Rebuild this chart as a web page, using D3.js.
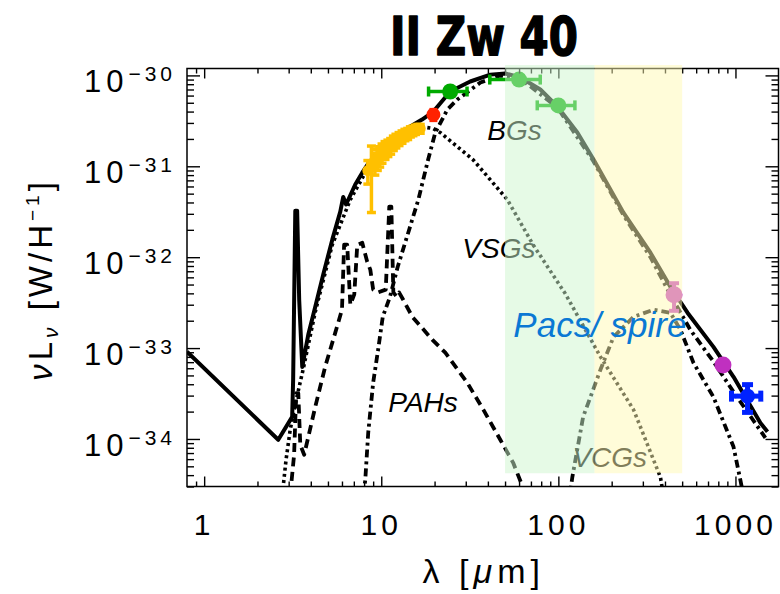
<!DOCTYPE html>
<html>
<head>
<meta charset="utf-8">
<script src="https://cdn.jsdelivr.net/npm/d3@7"></script>
<style>
  body { margin: 0; background: #fff; }
  svg { display: block; }
</style>
</head>
<body>
<svg id="chart" width="780" height="594"></svg>
<script>
// ---------------------------------------------------------------
// II Zw 40 : spectral energy distribution, nu L_nu per H atom
// ---------------------------------------------------------------

// Model components, [wavelength (micron), nuLnu (W/H)]
const totalSED = [
  [0.80, 9.1e-34], [2.62, 9.8e-35], [3.14, 1.75e-34], [3.18, 4.5e-34],
  [3.27, 3.25e-32], [3.35, 3.25e-32], [3.44, 3.4e-33], [3.58, 6.2e-34],
  [3.87, 1.4e-33], [4.24, 2.85e-33], [4.70, 6.4e-33], [5.29, 1.56e-32],
  [5.87, 3.17e-32], [6.10, 4.6e-32], [6.33, 3.8e-32], [7.13, 6.3e-32],
  [7.81, 8.5e-32], [8.44, 1.07e-31], [9.87, 1.53e-31], [12.0, 2.12e-31],
  [14.6, 2.74e-31], [17.0, 3.27e-31], [19.7, 4.0e-31], [24.5, 6.65e-31],
  [31.8, 8.57e-31], [41.3, 1.02e-30], [50.2, 1.05e-30], [61, 9.5e-31],
  [79.1, 7.0e-31], [98.7, 4.55e-31], [128, 2.35e-31], [158, 1.19e-31],
  [233, 3.09e-32], [331, 1.12e-32], [429, 4.73e-33], [536, 2.45e-33],
  [751, 1.03e-33], [975, 4.83e-34], [1384, 1.5e-34], [1517, 1.2e-34]
];

const pahSED = [
  [3.06, 2.4e-35], [3.22, 6.7e-35], [3.31, 3.2e-34], [3.40, 3.2e-34],
  [3.49, 8.6e-35], [3.67, 6.7e-35], [4.24, 2.26e-34], [4.83, 6.3e-34],
  [5.50, 1.48e-33], [6.00, 2.64e-33], [6.17, 1.37e-32], [6.42, 1.37e-32],
  [6.69, 3.0e-33], [7.04, 3.9e-33], [7.32, 1.37e-32], [7.81, 1.44e-32],
  [8.33, 8.9e-33], [8.67, 7.3e-33], [9.00, 4.4e-33], [9.60, 4.1e-33],
  [10.6, 4.4e-33], [11.1, 3.6e-32], [11.4, 3.6e-32], [11.7, 4.1e-33],
  [12.2, 3.7e-33], [12.6, 4.1e-33], [13.3, 3.4e-33], [15.0, 2.2e-33],
  [19.4, 1.24e-33], [23.0, 8.9e-34], [30.5, 4.2e-34], [37.7, 2.1e-34],
  [47, 9.8e-35], [55.5, 5.5e-35], [62.8, 3.0e-35], [65.0, 2.4e-35]
];

const vsgSED = [
  [2.76, 2.4e-35], [2.90, 5.9e-35], [3.06, 1.26e-34], [3.31, 2.7e-34],
  [3.62, 5.8e-34], [4.24, 2.5e-33], [5.29, 1.37e-32], [6.69, 4.3e-32],
  [8.44, 9.7e-32], [12.0, 1.97e-31], [16.6, 2.74e-31], [19.7, 2.6e-31],
  [21.6, 2.34e-31], [33, 1.18e-31], [51.5, 4.3e-32], [72, 1.37e-32],
  [109.5, 3.96e-33], [173, 8.0e-34], [266, 2.09e-34], [377, 3.8e-35],
  [392, 2.4e-35]
];

const bgSED = [
  [7.9, 2.4e-35], [8.12, 3.5e-35], [8.44, 1.17e-34], [9.0, 4.16e-34],
  [9.6, 9.6e-34], [10.2, 2.21e-33], [11.2, 3.67e-33], [12.4, 7.9e-33],
  [14.2, 1.86e-32], [16.2, 4.3e-32], [18.4, 1.19e-31], [20.2, 2.35e-31],
  [23.6, 4.2e-31], [26.9, 5.43e-31], [36.3, 8.35e-31], [47, 9.97e-31],
  [61, 9.2e-31], [98.7, 4.45e-31], [158, 1.13e-31], [233, 2.9e-32],
  [331, 1.0e-32], [429, 3.85e-33], [557, 1.58e-33], [751, 7.1e-34],
  [975, 3.3e-34], [1476, 1.03e-34]
];

const vcgSED = [
  [115, 2.1e-35], [120, 3.83e-35], [138, 1.75e-34], [173, 5.8e-34],
  [205, 1.33e-33], [266, 2.21e-33], [344, 2.64e-33], [429, 2.45e-33],
  [489, 1.59e-33], [579, 6.9e-34], [751, 2.9e-34], [975, 8.2e-35],
  [1067, 3.5e-35], [1110, 2.4e-35]
];

// IRS spectrum, [wavelength, nuLnu, error]
const irsSpectrum = [
  [8.4, 8.97e-32, 2.6e-32], [8.8, 9.9e-32, 6.8e-32], [9.2, 1.10e-31, 3.0e-32],
  [9.5, 1.22e-31, 3.2e-32], [9.8, 1.31e-31, 3.3e-32], [10.1, 1.42e-31, 3.4e-32],
  [10.5, 1.53e-31, 3.4e-32], [10.9, 1.61e-31, 3.3e-32], [11.3, 1.69e-31, 3.3e-32],
  [11.7, 1.82e-31, 3.3e-32], [12.1, 1.92e-31, 3.3e-32], [12.6, 2.02e-31, 3.3e-32],
  [13.1, 2.12e-31, 3.3e-32], [13.6, 2.23e-31, 3.2e-32], [14.1, 2.29e-31, 3.2e-32],
  [14.6, 2.41e-31, 3.1e-32], [15.1, 2.47e-31, 3.0e-32], [15.6, 2.54e-31, 3.0e-32],
  [16.1, 2.60e-31, 2.9e-32], [16.6, 2.60e-31, 2.9e-32]
];

// Broad-band photometry
const photInstrument = ["wise", "mips", "iras", "iras", "scuba", "scuba", "mambo"];
const photLambda     = [19.7,   24.5,   60,     100,    450,     850,     1170];
const photValue      = [3.7e-31, 6.65e-31, 9.0e-31, 4.68e-31, 3.87e-33, 6.5e-34, 2.96e-34];
const photLambdaErr  = [0,      6,      19,     24,     0,       0,       220];
const photValueErr   = [5e-32,  0,      0,      0,      1.3e-33, 6.5e-35, 1.0e-34];

// Herschel coverage
const bandNames  = ["PACS", "SPIRE"];
const bandRanges = [[50, 160], [160, 500]];
const bandFluxRange = [4.2e-35, 1.3e-30];

// Axis ticks
const xTickValues = [1, 10, 100, 1000];
const xTickLabels = ["1", "10", "100", "1000"];
const yTickExponents = [-30, -31, -32, -33, -34];

const componentLabels = ["BGs", "VSGs", "PAHs", "VCGs"];
const titleText = "II Zw 40";

// ---------------------------------------------------------------
const svg = d3.select("#chart");
const plot = { left: 187, right: 778.5, top: 68.5, bottom: 486.5 };

const x = d3.scaleLog().domain([0.8, 1750]).range([plot.left, plot.right]);
const y = d3.scaleLog().domain([Math.pow(10, -34.523), Math.pow(10, -29.924)])
  .range([plot.bottom, plot.top]);

svg.append("defs").append("clipPath").attr("id", "plot-clip")
  .append("rect")
  .attr("x", plot.left).attr("y", plot.top)
  .attr("width", plot.right - plot.left).attr("height", plot.bottom - plot.top);

const curves = svg.append("g").attr("clip-path", "url(#plot-clip)");
const line = d3.line().x(d => x(d[0])).y(d => y(d[1]));

// Component labels, sitting under the coverage tint
const labelFont = "'Liberation Sans', Arial, sans-serif";
const labelAnchors = {
  BGs:  [39.7, 1.97e-31],
  VSGs: [28.7, 9.9e-33],
  PAHs: [10.96, 2.0e-34],
  VCGs: [120, 4.93e-35]
};
componentLabels.forEach(name => {
  svg.append("text")
    .attr("x", x(labelAnchors[name][0]))
    .attr("y", y(labelAnchors[name][1]))
    .attr("font-family", labelFont)
    .attr("font-style", "italic")
    .attr("font-size", 28)
    .attr("fill", "#000")
    .text(name);
});

// Model curves
const curveStyles = [
  { data: pahSED,   dash: "9,5.5",      width: 3.8 },
  { data: vsgSED,   dash: "3,3.2",      width: 3.6 },
  { data: bgSED,    dash: "8,4,3,4",    width: 3.8 },
  { data: vcgSED,   dash: "8,4,3,4",    width: 3.8 },
  { data: totalSED, dash: null,         width: 4 }
];
curveStyles.forEach(c => {
  curves.append("path")
    .datum(c.data)
    .attr("d", line)
    .attr("fill", "none")
    .attr("stroke", "#000")
    .attr("stroke-width", c.width)
    .attr("stroke-linejoin", "round")
    .attr("stroke-dasharray", c.dash);
});

// Data points
const pointStyle = {
  irs:   { color: "#ffc000", r: 5.5, cap: 4.5, w: 3.5 },
  wise:  { color: "#ff2200", r: 7,   cap: 4,   w: 3.5 },
  mips:  { color: "#00aa00", r: 8,   cap: 5,   w: 3.5 },
  iras:  { color: "#00aa00", r: 8,   cap: 5,   w: 3.5 },
  scuba: { color: "#c030c0", r: 8.5, cap: 5,   w: 4 },
  mambo: { color: "#0022ff", r: 7.5, cap: 5.5, w: 5 }
};

const points = svg.append("g");
function drawPoint(inst, lam, val, lamErr, valErr) {
  const s = pointStyle[inst];
  const g = points.append("g");
  const cx = x(lam), cy = y(val);
  if (lamErr > 0) {
    const x0 = x(lam - lamErr), x1 = x(lam + lamErr);
    g.append("line").attr("x1", x0).attr("x2", x1).attr("y1", cy).attr("y2", cy)
      .attr("stroke", s.color).attr("stroke-width", s.w);
    [x0, x1].forEach(xx => g.append("line").attr("x1", xx).attr("x2", xx)
      .attr("y1", cy - s.cap).attr("y2", cy + s.cap)
      .attr("stroke", s.color).attr("stroke-width", s.w));
  }
  if (valErr > 0) {
    const y0 = y(val - valErr), y1 = y(val + valErr);
    g.append("line").attr("x1", cx).attr("x2", cx).attr("y1", y0).attr("y2", y1)
      .attr("stroke", s.color).attr("stroke-width", s.w);
    [y0, y1].forEach(yy => g.append("line").attr("x1", cx - s.cap).attr("x2", cx + s.cap)
      .attr("y1", yy).attr("y2", yy)
      .attr("stroke", s.color).attr("stroke-width", s.w));
  }
  g.append("circle").attr("cx", cx).attr("cy", cy).attr("r", s.r).attr("fill", s.color);
}

irsSpectrum.forEach(d => drawPoint("irs", d[0], d[1], 0, d[2]));
photLambda.forEach((lam, i) =>
  drawPoint(photInstrument[i], lam, photValue[i], photLambdaErr[i], photValueErr[i]));

// Axes: ticks on all four sides, pointing inward
const majorX = xTickValues;
const minorX = [];
for (let e = -1; e <= 3; e++) {
  for (let m = 2; m <= 9; m++) {
    const v = m * Math.pow(10, e);
    if (v > 0.81 && v < 1750) minorX.push(v);
  }
}
const majorY = yTickExponents.map(e => Math.pow(10, e));
const minorY = [];
for (let e = -35; e <= -31; e++) {
  for (let m = 2; m <= 9; m++) {
    const v = m * Math.pow(10, e);
    if (v > y.domain()[0] && v < y.domain()[1]) minorY.push(v);
  }
}

function addAxis(axisFn, scale, values, size, transform) {
  svg.append("g")
    .attr("transform", transform)
    .call(axisFn(scale).tickValues(values).tickSize(-size).tickSizeOuter(0).tickFormat(""))
    .call(g => g.select(".domain").remove())
    .call(g => g.selectAll(".tick line").attr("stroke", "#000").attr("stroke-width", 1.4));
}
addAxis(d3.axisBottom, x, majorX, 10, `translate(0,${plot.bottom})`);
addAxis(d3.axisBottom, x, minorX, 5,  `translate(0,${plot.bottom})`);
addAxis(d3.axisTop,    x, majorX, 10, `translate(0,${plot.top})`);
addAxis(d3.axisTop,    x, minorX, 5,  `translate(0,${plot.top})`);
addAxis(d3.axisLeft,   y, majorY, 13, `translate(${plot.left},0)`);
addAxis(d3.axisLeft,   y, minorY, 7,  `translate(${plot.left},0)`);
addAxis(d3.axisRight,  y, majorY, 13, `translate(${plot.right},0)`);
addAxis(d3.axisRight,  y, minorY, 7,  `translate(${plot.right},0)`);

svg.append("rect")
  .attr("x", plot.left).attr("y", plot.top)
  .attr("width", plot.right - plot.left).attr("height", plot.bottom - plot.top)
  .attr("fill", "none").attr("stroke", "#000").attr("stroke-width", 1.5);

// Herschel PACS / SPIRE coverage tint (drawn over curves, points and ticks)
const bandFill = { PACS: "rgb(205,245,205)", SPIRE: "rgb(255,250,180)" };
bandNames.forEach((name, i) => {
  svg.append("rect")
    .attr("x", x(bandRanges[i][0]))
    .attr("width", x(bandRanges[i][1]) - x(bandRanges[i][0]))
    .attr("y", y(bandFluxRange[1]))
    .attr("height", y(bandFluxRange[0]) - y(bandFluxRange[1]))
    .attr("fill", bandFill[name])
    .attr("fill-opacity", 0.5);
});

svg.append("text")
  .attr("x", x(55.7)).attr("y", y(1.33e-33))
  .attr("font-family", labelFont)
  .attr("font-style", "italic")
  .attr("font-size", 35)
  .attr("fill", "#0a78d4")
  .text("Pacs/ spire");

// Tick labels
const tickFont = "'Liberation Sans', Arial, Helvetica, sans-serif";
xTickValues.forEach((v, i) => {
  svg.append("text")
    .attr("x", x(v)).attr("y", 535)
    .attr("text-anchor", "middle")
    .attr("font-family", tickFont).attr("font-size", 30)
    .attr("letter-spacing", 4)
    .text(xTickLabels[i]);
});
yTickExponents.forEach(e => {
  const t = svg.append("text")
    .attr("x", 176).attr("y", y(Math.pow(10, e)) + 17)
    .attr("text-anchor", "end")
    .attr("font-family", tickFont).attr("font-size", 31)
    .attr("letter-spacing", 5);
  t.append("tspan").text("10");
  t.append("tspan").attr("dy", -11).attr("font-size", 21).attr("letter-spacing", 4)
    .text("\u2212" + Math.abs(e));
});

// Axis titles
const xt = svg.append("text")
  .attr("x", (plot.left + plot.right) / 2 + 1).attr("y", 583)
  .attr("text-anchor", "middle")
  .attr("font-family", tickFont).attr("font-size", 34)
  .attr("letter-spacing", 5);
xt.append("tspan").text("\u03bb [");
xt.append("tspan").attr("font-style", "italic").text("\u03bc");
xt.append("tspan").text("m]");

const yt = svg.append("text")
  .attr("transform", `translate(52,${(plot.top + plot.bottom) / 2 + 2}) rotate(-90)`)
  .attr("text-anchor", "middle")
  .attr("font-family", tickFont).attr("font-size", 33)
  .attr("letter-spacing", 4);
yt.append("tspan").attr("font-style", "italic").text("\u03bd");
yt.append("tspan").text("L");
yt.append("tspan").attr("font-style", "italic").attr("font-size", 21).attr("dy", 6).text("\u03bd");
yt.append("tspan").attr("dy", -6).text(" [W/H");
yt.append("tspan").attr("font-size", 19).attr("dy", -13).text("\u22121");
yt.append("tspan").attr("dy", 13).text("]");

// Title
svg.append("text")
  .attr("x", 390).attr("y", 55)
  .attr("textLength", 188).attr("lengthAdjust", "spacingAndGlyphs")
  .attr("font-family", "'DejaVu Sans', sans-serif")
  .attr("font-weight", "bold").attr("font-size", 54)
  .attr("fill", "#000").attr("stroke", "#000").attr("stroke-width", 1.5)
  .attr("stroke-linejoin", "round")
  .text(titleText);
</script>
</body>
</html>
